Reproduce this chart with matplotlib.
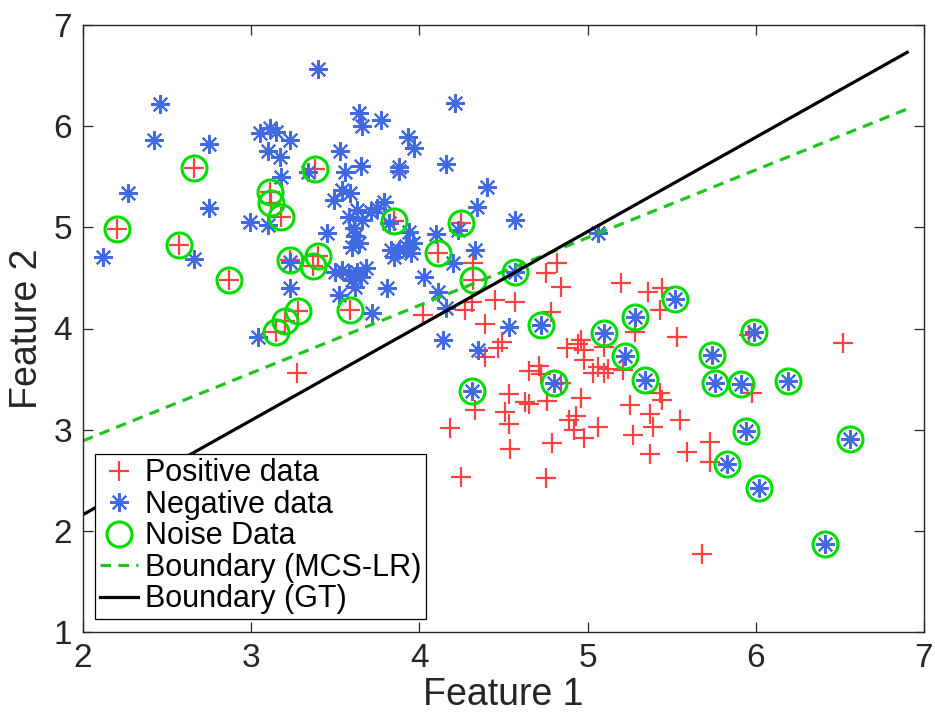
import matplotlib
matplotlib.use("Agg")
import matplotlib.pyplot as plt

# ---------------- data ----------------
pos_x = [4.32, 4.75, 4.82, 4.84, 5.20, 5.36, 5.44, 5.43, 4.31, 4.27, 4.45, 4.57, 4.78, 4.02,
         4.39, 4.49, 4.47, 4.39, 3.27, 4.65, 4.71, 4.72, 4.53, 4.88, 4.96, 4.98, 4.94, 4.98,
         5.06, 5.10, 5.03, 5.12, 4.84, 4.63, 4.65, 4.76, 4.96, 4.51, 4.53, 4.33, 4.89, 4.93,
         4.92, 4.98, 5.06, 5.25, 5.37, 5.39, 5.27, 5.37, 4.18, 4.54, 4.79, 4.25, 4.75, 5.28,
         5.53, 5.10, 5.21, 5.43, 5.44, 5.96, 6.52, 5.98, 5.55, 5.73, 5.73, 5.59, 5.68]
pos_y = [4.65, 4.55, 4.65, 4.41, 4.45, 4.36, 4.40, 4.18, 4.26, 4.18, 4.28, 4.26, 4.16, 4.13,
         4.04, 3.87, 3.81, 3.72, 3.56, 3.58, 3.63, 3.55, 3.35, 3.81, 3.89, 3.79, 3.85, 3.69,
         3.62, 3.56, 3.56, 3.60, 3.46, 3.27, 3.25, 3.28, 3.31, 3.17, 3.06, 3.19, 3.10, 3.14,
         3.00, 2.92, 3.03, 3.24, 3.15, 3.03, 2.95, 2.76, 3.02, 2.81, 2.87, 2.53, 2.52, 3.97,
         3.92, 3.82, 3.59, 3.36, 3.29, 3.94, 3.86, 3.36, 3.10, 2.88, 2.68, 2.78, 1.77]

# positive samples lying in the negative region (noise)
pos_noise_x = [2.20, 2.66, 2.57, 2.87, 3.11, 3.12, 3.18, 3.23, 3.38, 3.40, 3.37, 3.85, 4.25,
               4.11, 4.32, 3.28, 3.20, 3.15, 3.59]
pos_noise_y = [4.98, 5.59, 4.83, 4.48, 5.35, 5.24, 5.10, 4.68, 5.58, 4.72, 4.62, 5.06, 5.04,
               4.75, 4.48, 4.17, 4.07, 3.97, 4.18]

neg_x = [2.46, 2.42, 2.75, 2.27, 2.75, 2.12, 2.66, 2.99, 3.10, 3.05, 3.11, 3.15, 3.23, 3.10,
         3.17, 3.18, 3.23, 3.23, 3.34, 3.53, 3.49, 3.45, 3.65, 3.56, 3.88, 3.88, 3.97, 3.93,
         4.16, 3.54, 3.59, 3.63, 3.58, 3.66, 3.71, 3.75, 3.79, 3.82, 3.61, 3.60, 3.62, 3.94,
         3.83, 3.88, 3.92, 3.96, 3.95, 4.23, 4.34, 4.10, 4.20, 4.33, 3.50, 3.54, 3.58, 3.63,
         3.68, 3.60, 3.65, 3.62, 4.03, 3.81, 3.52, 4.11, 3.40, 4.21, 3.64, 3.66, 3.77, 4.40,
         4.57, 5.06, 3.72, 3.04, 4.16, 4.14, 4.35, 4.53, 3.85, 3.64]
neg_y = [6.22, 5.86, 5.82, 5.34, 5.19, 4.71, 4.69, 5.05, 5.02, 5.93, 5.98, 5.94, 5.86, 5.75,
         5.70, 5.50, 4.40, 4.66, 5.55, 5.75, 5.27, 4.94, 5.61, 5.55, 5.60, 5.56, 5.78, 5.89,
         5.63, 5.37, 5.34, 5.17, 5.10, 5.07, 5.15, 5.19, 5.25, 5.04, 4.99, 4.81, 4.91, 4.95,
         4.78, 4.78, 4.82, 4.85, 4.75, 4.97, 5.20, 4.93, 4.65, 4.78, 4.56, 4.58, 4.54, 4.56,
         4.60, 4.48, 4.51, 4.41, 4.51, 4.40, 4.33, 4.36, 6.57, 6.23, 6.13, 6.00, 6.06, 5.40,
         5.07, 4.94, 4.15, 3.92, 4.20, 3.89, 3.79, 4.01, 4.71, 4.85]

# negative samples lying in the positive region (noise)
neg_noise_x = [4.57, 4.72, 4.31, 4.80, 5.10, 5.28, 5.22, 5.34, 5.52, 5.74, 5.99, 5.76, 5.91,
               6.19, 5.94, 6.56, 5.83, 6.02, 6.41]
neg_noise_y = [4.56, 4.03, 3.38, 3.46, 3.96, 4.11, 3.73, 3.49, 4.29, 3.74, 3.97, 3.46, 3.45,
               3.48, 2.99, 2.91, 2.66, 2.42, 1.87]

mcs_x = [2.0, 6.9]
mcs_y = [2.89, 6.17]
gt_x = [2.0, 6.9]
gt_y = [2.16, 6.73]

labels = ["Positive data", "Negative data", "Noise Data", "Boundary (MCS-LR)", "Boundary (GT)"]
xticks = [2, 3, 4, 5, 6, 7]
yticks = [1, 2, 3, 4, 5, 6, 7]

# ---------------- style ----------------
RED = "#ff4040"
BLUE = "#4169e1"
GREEN = "#00dd00"
DGREEN = "#20c420"
TXT = "#262626"
FONT = ["Liberation Sans", "Arial", "DejaVu Sans"]
plt.rcParams["font.family"] = FONT
ASTER = (8, 2, 0)

fig = plt.figure(figsize=(9.35, 7.13), dpi=100)
ax = fig.add_axes([83 / 935, (713 - 632) / 713, 841 / 935, 607 / 713])

all_pos_x = pos_x + pos_noise_x
all_pos_y = pos_y + pos_noise_y
all_neg_x = neg_x + neg_noise_x
all_neg_y = neg_y + neg_noise_y

h1, = ax.plot(all_pos_x, all_pos_y, linestyle="none", marker="+", ms=14, mew=1.6,
              color=RED, label=labels[0])
h2, = ax.plot(all_neg_x, all_neg_y, linestyle="none", marker=ASTER, ms=13.5, mew=1.5,
              color=BLUE, label=labels[1])
h3, = ax.plot(pos_noise_x + neg_noise_x, pos_noise_y + neg_noise_y, linestyle="none",
              marker="o", ms=18, mew=2.2, mfc="none", mec=GREEN, label=labels[2])
h4, = ax.plot(mcs_x, mcs_y, linestyle=(0, (3.3, 2.3)), lw=2.3, color=DGREEN, label=labels[3])
h5, = ax.plot(gt_x, gt_y, linestyle="-", lw=2.3, color="black", label=labels[4])

ax.set_xlim(2, 7)
ax.set_ylim(1, 7)
ax.set_xticks(xticks)
ax.set_yticks(yticks)
ax.tick_params(direction="in", length=7, width=0.9, top=True, right=True,
               labelsize=24, colors=TXT, pad=8)
for s in ax.spines.values():
    s.set_color(TXT)
    s.set_linewidth(1.0)

ax.set_xlabel("Feature 1", fontsize=27, color=TXT, labelpad=2)
ax.set_ylabel("Feature 2", fontsize=27, color=TXT, labelpad=6)

leg = ax.legend(handles=[h1, h2, h3, h4, h5], loc="lower left",
                bbox_to_anchor=(0.0143, 0.0214), borderaxespad=0, fontsize=22,
                frameon=True, fancybox=False, shadow=False, framealpha=1,
                edgecolor="black", handlelength=1.25, handletextpad=0.25,
                labelspacing=0.05, borderpad=0.15)
leg.get_frame().set_linewidth(0.9)

fig.savefig("out.png", dpi=100)
